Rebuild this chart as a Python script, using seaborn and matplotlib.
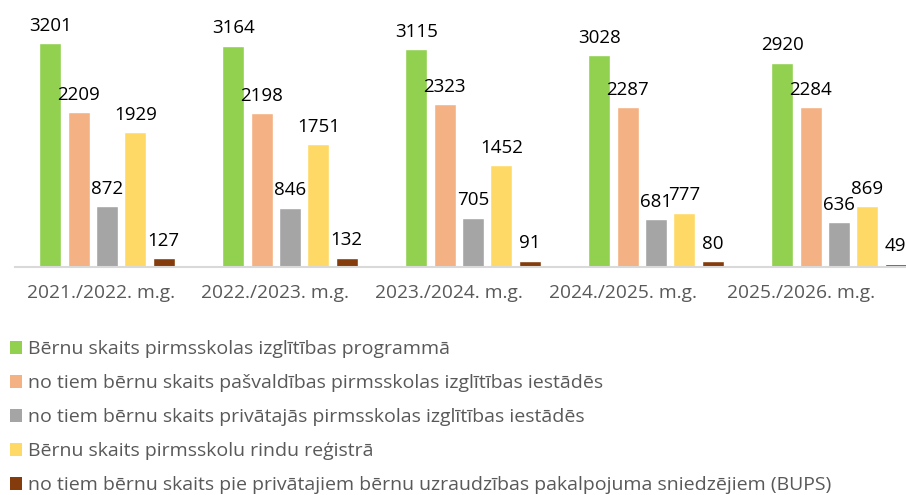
import seaborn as sns
import matplotlib.pyplot as plt
import pandas as pd
from matplotlib.patches import Patch

# --- data ---
years = ["2021./2022. m.g.", "2022./2023. m.g.", "2023./2024. m.g.",
         "2024./2025. m.g.", "2025./2026. m.g."]
series = [
    "Bērnu skaits pirmsskolas izglītības programmā",
    "no tiem bērnu skaits pašvaldības pirmsskolas izglītības iestādēs",
    "no tiem bērnu skaits privātajās pirmsskolas izglītības iestādēs",
    "Bērnu skaits pirmsskolu rindu reģistrā",
    "no tiem bērnu skaits pie privātajiem bērnu uzraudzības pakalpojuma sniedzējiem (BUPS)",
]
total_program = [3201, 3164, 3115, 3028, 2920]
municipal = [2209, 2198, 2323, 2287, 2284]
private = [872, 846, 705, 681, 636]
queue = [1929, 1751, 1452, 777, 869]
bups = [127, 132, 91, 80, 49]
colors = ["#92D050", "#F4B183", "#A5A5A5", "#FFD966", "#843C0C"]

rows = []
for name, vals in zip(series, [total_program, municipal, private, queue, bups]):
    for y, v in zip(years, vals):
        rows.append({"year": y, "series": name, "value": v})
df = pd.DataFrame(rows)

sns.set_theme(style="white")
plt.rcParams["font.family"] = ["Open Sans", "DejaVu Sans"]

fig = plt.figure(figsize=(9.06, 4.95), dpi=100)
ax = fig.add_axes([15 / 906, 1 - 267 / 495, 1 - 15 / 906, 267 / 495])

sns.barplot(data=df, x="year", y="value", hue="series", palette=colors,
            width=0.773, gap=0.22, ax=ax, legend=False, saturation=1)

for cont in ax.containers:
    ax.bar_label(cont, fmt="%d", padding=6, fontsize=13.5, color="black")

ax.set_ylim(0, 3814)
ax.set_xlim(-0.503, 4.366)
ax.set_xlabel("")
ax.set_ylabel("")
ax.set_yticks([])
# category labels sit a bit left of the bar groups in the original
ax.set_xticks([-0.033, 0.918, 1.869, 2.82, 3.79])
ax.set_xticklabels(years, fontsize=13.8, color="#595959")
ax.tick_params(axis="x", length=0, pad=12)
for s in ["top", "left", "right"]:
    ax.spines[s].set_visible(False)
ax.spines["bottom"].set_color("#D9D9D9")
ax.spines["bottom"].set_linewidth(1.5)

handles = [Patch(facecolor=c, edgecolor="none") for c in colors]
fig.legend(handles, series, loc="upper left", bbox_to_anchor=(0.003, 0.328),
           frameon=False, fontsize=14, labelcolor="#595959",
           handlelength=0.6, handleheight=0.6, handletextpad=0.3,
           labelspacing=0.82, borderaxespad=0)

fig.savefig("out.png", dpi=100)
